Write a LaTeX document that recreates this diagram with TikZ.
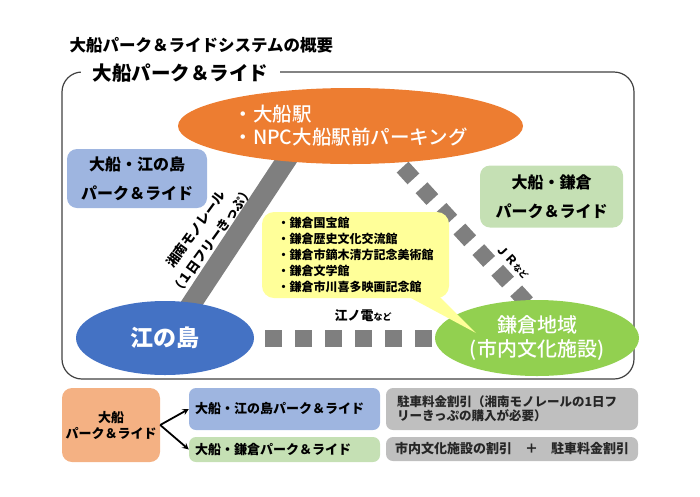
\documentclass[tikz,border=0pt]{standalone}
\usepackage{fontspec}
\setmainfont{Noto Sans CJK JP}
\newfontfamily\jpmedium{Noto Sans CJK JP Medium}
\usetikzlibrary{shapes.geometric}
\definecolor{ofunaorange}{HTML}{ED7D31}
\definecolor{enoblue}{HTML}{4472C4}
\definecolor{kamagreen}{HTML}{92D050}
\definecolor{boxblue}{HTML}{9EB5E0}
\definecolor{boxgreen}{HTML}{C5E0B4}
\definecolor{boxorange}{HTML}{F4B183}
\definecolor{boxgray}{HTML}{BFBFBF}
\definecolor{memoyellow}{HTML}{FFFF99}
\definecolor{railgray}{HTML}{7F7F7F}
\begin{document}
\begin{tikzpicture}[x=1pt,y=-1pt,>=stealth,
    oval/.style={ellipse,inner sep=0pt,text=white},
    pbox/.style={rounded corners=10pt,inner sep=0pt,align=center,
        font=\bfseries\fontsize{16}{29}\selectfont},
    sbox/.style={rounded corners=7pt,inner xsep=6pt,inner ysep=0pt,align=left,
        font=\bfseries\fontsize{13}{14}\selectfont},
    rail/.style={draw=railgray,line width=20pt},
    dashrail/.style={draw=railgray,line width=#1,dash pattern=on #1 off 13pt}]
    \useasboundingbox (0,0) rectangle (700,496);

    \node[anchor=west,font=\bfseries\fontsize{16.5}{18}\selectfont] (title) at (66,45)
        {大船パーク＆ライドシステムの概要};
    \draw[black!75,line width=1.2pt,rounded corners=20pt] (62,72) rectangle (634,379);
    \node[fill=white,inner xsep=12pt,inner ysep=2pt,
        font=\bfseries\fontsize{19.5}{22}\selectfont] (frametitle) at (180.5,73)
        {大船パーク＆ライド};

    \coordinate (M1) at (299.6,140);
    \coordinate (M2) at (180.8,320);
    \coordinate (J1) at (402.6,167.1);
    \coordinate (J2) at (533.7,310);
    \coordinate (E1) at (265,338.5);
    \coordinate (E2) at (432,338.5);
    \draw[rail] (M1) -- (M2);
    \draw[dashrail=16pt,dash pattern=on 16pt off 12pt] (J1) -- (J2);
    \draw[dashrail=17pt] (E1) -- (E2);

    \node[oval,fill=ofunaorange,minimum width=345,minimum height=76,align=left,
        font=\jpmedium\fontsize{19.5}{23}\selectfont] (ofuna) at (350.5,126)
        {・大船駅\\・NPC大船駅前パーキング};
    \node[oval,fill=enoblue,minimum width=178,minimum height=74,
        font=\bfseries\fontsize{23}{26}\selectfont] (enoshima) at (165,338) {江の島};
    \node[oval,fill=kamagreen,minimum width=204,minimum height=76,align=center,
        font=\jpmedium\fontsize{20}{24}\selectfont] (kamakura) at (537,338)
        {鎌倉地域\\(市内文化施設)};

    \node[pbox,fill=boxblue,minimum width=140,minimum height=59] (enopr) at (137,178.5)
        {大船・江の島\\パーク＆ライド};
    \node[pbox,fill=boxgreen,minimum width=143,minimum height=62] (kamapr) at (551.5,196.5)
        {大船・鎌倉\\パーク＆ライド};

    \node[rotate=54,align=center,inner sep=0pt,font=\bfseries\fontsize{13}{20}\selectfont]
        (monolabel) at (204,235) {湘南モノレール\\（１日フリーきっぷ）};
    \node[rotate=-47,inner sep=0pt,font=\bfseries\fontsize{12}{13}\selectfont] (jrname) at (513,262)
        {ＪＲ{\fontsize{8.5}{9}\selectfont など}};
    \node[inner sep=0pt,font=\bfseries\fontsize{13}{14}\selectfont] (enoname) at (363,316)
        {江ノ電{\fontsize{9}{9}\selectfont など}};

    \coordinate (tip) at (476,333);
    \fill[memoyellow] (396,290) -- (tip) -- (433,290) -- cycle;
    \node[fill=memoyellow,rounded corners=12pt,minimum width=187,minimum height=86,
        inner sep=0pt,align=left,font=\bfseries\fontsize{12}{16}\selectfont] (museums) at (355.5,255)
        {・鎌倉国宝館\\・鎌倉歴史文化交流館\\・鎌倉市鏑木清方記念美術館\\・鎌倉文学館\\・鎌倉市川喜多映画記念館};

    \node[rounded corners=10pt,fill=boxorange,minimum width=98,minimum height=74,inner sep=0pt,
        align=center,font=\bfseries\fontsize{13}{16}\selectfont] (pr) at (111,425)
        {大船\\パーク＆ライド};
    \node[sbox,fill=boxblue,text width=179,minimum height=42] (enobox) at (284.5,409)
        {大船・江の島パーク＆ライド};
    \node[sbox,fill=boxgreen,text width=179,minimum height=25] (kamabox) at (284.5,449.5)
        {大船・鎌倉パーク＆ライド};
    \node[sbox,fill=boxgray,text=black!85,inner xsep=11pt,text width=230,minimum height=42,
        font=\bfseries\fontsize{12.5}{14}\selectfont] (parkdisc) at (512,409)
        {駐車料金割引（湘南モノレールの1日フ\\リーきっぷの購入が必要）};
    \node[sbox,fill=boxgray,text=black!85,inner xsep=9pt,text width=234,minimum height=24,
        font=\bfseries\fontsize{13}{14}\selectfont] (bothdisc) at (512,449)
        {市内文化施設の割引　＋　駐車料金割引};

    \draw[->,line width=1.8pt] (pr.east) -- (enobox.west);
    \draw[->,line width=1.8pt] (pr.east) -- (kamabox.west);
\end{tikzpicture}
\end{document}
